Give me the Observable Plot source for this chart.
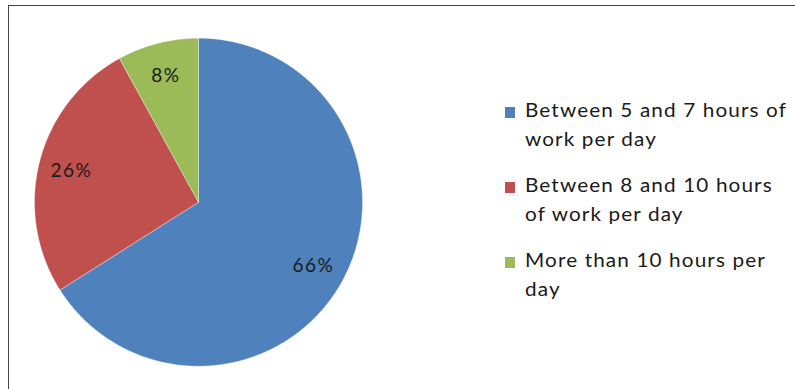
<!DOCTYPE html>
<html><head><meta charset="utf-8">
<script src="https://cdn.jsdelivr.net/npm/d3@7"></script>
<script src="https://cdn.jsdelivr.net/npm/@observablehq/plot@0.6"></script>
<style>
html,body{margin:0;padding:0;background:#fff;}
#wrap{position:relative;width:795px;height:389px;overflow:hidden;font-family:Lato,"Open Sans",sans-serif;color:#1a1a1a;}
#wrap svg{position:absolute;left:0;top:0;}
#border{position:absolute;left:8px;top:5px;right:-5px;bottom:-5px;border-left:1.5px solid #444;border-top:1.5px solid #444;pointer-events:none;}
.item{position:absolute;left:525px;width:236px;font-size:18.5px;letter-spacing:1px;line-height:29.5px;transform:scaleX(1.12);transform-origin:0 0;}
.sw{position:absolute;left:505px;width:10px;height:11px;}
</style></head>
<body>
<div id="wrap"><div id="border"></div></div>
<script>
const categories = ["Between 5 and 7 hours of work per day", "Between 8 and 10 hours of work per day", "More than 10 hours per day"];
const shares = [66, 26, 8];
const labels = ["66%", "26%", "8%"];
const colors = ["#4F81BD", "#C0504D", "#9BBB59"];

const total = d3.sum(shares);
const pts = [];
const labelPts = [];
let acc = 0;
categories.forEach((cat, i) => {
  const a0 = acc / total * 2 * Math.PI;
  acc += shares[i];
  const a1 = acc / total * 2 * Math.PI;
  pts.push({cat, x: 0, y: 0});
  const n = Math.max(2, Math.ceil((a1 - a0) / (Math.PI / 360)));
  for (let k = 0; k <= n; k++) {
    const a = a0 + (a1 - a0) * k / n;
    pts.push({cat, x: Math.sin(a), y: Math.cos(a)});
  }
  pts.push({cat, x: 0, y: 0});
  const m = (a0 + a1) / 2;
  labelPts.push({text: labels[i], x: 0.8 * Math.sin(m), y: 0.8 * Math.cos(m)});
});

const plot = Plot.plot({
  width: 795, height: 389, margin: 0,
  style: {fontFamily: "Lato, 'Open Sans', sans-serif", background: "transparent"},
  x: {domain: [-1, 1], range: [34, 362], axis: null},
  y: {domain: [-1, 1], range: [365.7, 37.7], axis: null},
  color: {domain: categories, range: colors},
  marks: [
    Plot.line(pts, {x: "x", y: "y", z: "cat", fill: "cat", stroke: "#ffffff", strokeWidth: 0.7, strokeOpacity: 0.5, curve: "linear"}),
    Plot.text(labelPts, {x: "x", y: "y", text: "text", fontSize: 19, fill: "#1a1a1a", dy: 1})
  ]
});
plot.querySelectorAll("text").forEach(t => t.style.letterSpacing = "1.5px");
const wrap = document.getElementById("wrap");
wrap.insertBefore(plot, wrap.firstChild);

const tops = [95.5, 170.5, 245.5];
categories.forEach((cat, i) => {
  const sw = document.createElement("div");
  sw.className = "sw";
  sw.style.top = (tops[i] + 11) + "px";
  sw.style.background = colors[i];
  wrap.appendChild(sw);
  const t = document.createElement("div");
  t.className = "item";
  t.style.top = tops[i] + "px";
  t.textContent = cat;
  wrap.appendChild(t);
});
</script>
</body></html>
